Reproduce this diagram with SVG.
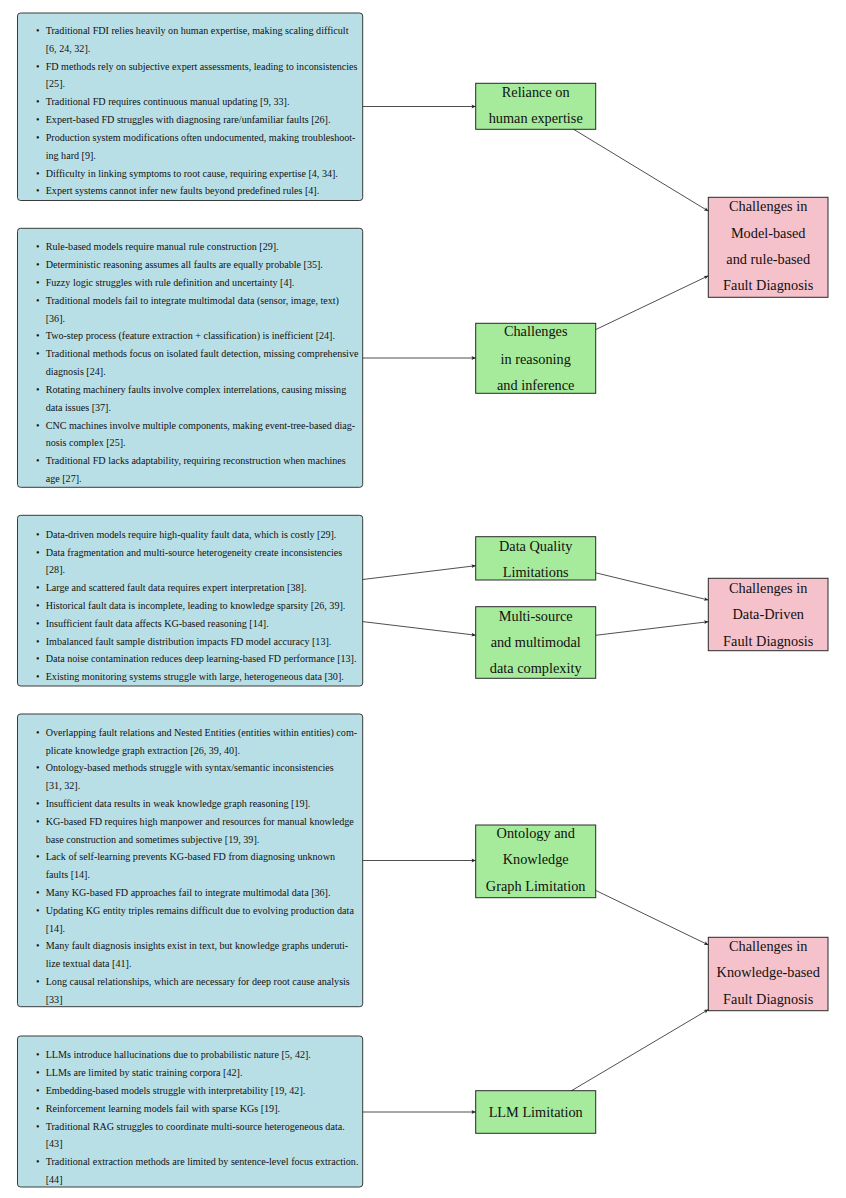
<svg xmlns="http://www.w3.org/2000/svg" width="846" height="1198" viewBox="0 0 846 1198">
<style>
.lb{fill:#b9dfe6;stroke:#3a3a3a;stroke-width:1}
.gn{fill:#a6eb9b;stroke:#2a2a2a;stroke-width:1}
.pk{fill:#f5c2cb;stroke:#2a2a2a;stroke-width:1}
.t{font-family:"Liberation Serif","Times New Roman",serif;font-size:10.1px;fill:#111}
.b{font-family:"Liberation Serif","Times New Roman",serif;font-size:10.1px;fill:#111;text-anchor:middle}
.n{font-family:"Liberation Serif","Times New Roman",serif;font-size:14.3px;fill:#111;text-anchor:middle}
.c{stroke:#222;stroke-width:0.8;fill:none;marker-end:url(#ah)}
</style>
<defs>
<marker id="ah" markerUnits="userSpaceOnUse" markerWidth="8" markerHeight="8" refX="0" refY="0" viewBox="-5 -4 6 8" orient="auto" overflow="visible">
<path d="M0,0 L-4.2,-1.9 L-3.2,0 L-4.2,1.9 Z" fill="#222"/>
</marker>
</defs>
<rect width="846" height="1198" fill="#fff"/>

<g id="box1">
<rect class="lb" x="17.5" y="13" width="345.2" height="187.5" rx="3"/>
<text class="b" x="37.7" y="33.8">•</text><text class="t" x="45.7" y="33.8">Traditional FDI relies heavily on human expertise, making scaling difficult</text>
<text class="t" x="45.7" y="51.65">[6, 24, 32].</text>
<text class="b" x="37.7" y="69.5">•</text><text class="t" x="45.7" y="69.5">FD methods rely on subjective expert assessments, leading to inconsistencies</text>
<text class="t" x="45.7" y="87.35">[25].</text>
<text class="b" x="37.7" y="105.2">•</text><text class="t" x="45.7" y="105.2">Traditional FD requires continuous manual updating [9, 33].</text>
<text class="b" x="37.7" y="123.05">•</text><text class="t" x="45.7" y="123.05">Expert-based FD struggles with diagnosing rare/unfamiliar faults [26].</text>
<text class="b" x="37.7" y="140.9">•</text><text class="t" x="45.7" y="140.9">Production system modifications often undocumented, making troubleshoot-</text>
<text class="t" x="45.7" y="158.75">ing hard [9].</text>
<text class="b" x="37.7" y="176.6">•</text><text class="t" x="45.7" y="176.6">Difficulty in linking symptoms to root cause, requiring expertise [4, 34].</text>
<text class="b" x="37.7" y="194.45">•</text><text class="t" x="45.7" y="194.45">Expert systems cannot infer new faults beyond predefined rules [4].</text>
</g>

<g id="box2">
<rect class="lb" x="17.5" y="228.3" width="345.2" height="259" rx="3"/>
<text class="b" x="37.7" y="250.1">•</text><text class="t" x="45.7" y="250.1">Rule-based models require manual rule construction [29].</text>
<text class="b" x="37.7" y="267.95">•</text><text class="t" x="45.7" y="267.95">Deterministic reasoning assumes all faults are equally probable [35].</text>
<text class="b" x="37.7" y="285.8">•</text><text class="t" x="45.7" y="285.8">Fuzzy logic struggles with rule definition and uncertainty [4].</text>
<text class="b" x="37.7" y="303.65">•</text><text class="t" x="45.7" y="303.65">Traditional models fail to integrate multimodal data (sensor, image, text)</text>
<text class="t" x="45.7" y="321.5">[36].</text>
<text class="b" x="37.7" y="339.35">•</text><text class="t" x="45.7" y="339.35">Two-step process (feature extraction + classification) is inefficient [24].</text>
<text class="b" x="37.7" y="357.2">•</text><text class="t" x="45.7" y="357.2">Traditional methods focus on isolated fault detection, missing comprehensive</text>
<text class="t" x="45.7" y="375.05">diagnosis [24].</text>
<text class="b" x="37.7" y="392.9">•</text><text class="t" x="45.7" y="392.9">Rotating machinery faults involve complex interrelations, causing missing</text>
<text class="t" x="45.7" y="410.75">data issues [37].</text>
<text class="b" x="37.7" y="428.6">•</text><text class="t" x="45.7" y="428.6">CNC machines involve multiple components, making event-tree-based diag-</text>
<text class="t" x="45.7" y="446.45">nosis complex [25].</text>
<text class="b" x="37.7" y="464.3">•</text><text class="t" x="45.7" y="464.3">Traditional FD lacks adaptability, requiring reconstruction when machines</text>
<text class="t" x="45.7" y="482.15">age [27].</text>
</g>

<g id="box3">
<rect class="lb" x="17.5" y="515.3" width="345.2" height="170.7" rx="3"/>
<text class="b" x="37.7" y="537.7">•</text><text class="t" x="45.7" y="537.7">Data-driven models require high-quality fault data, which is costly [29].</text>
<text class="b" x="37.7" y="555.5">•</text><text class="t" x="45.7" y="555.5">Data fragmentation and multi-source heterogeneity create inconsistencies</text>
<text class="t" x="45.7" y="573.3">[28].</text>
<text class="b" x="37.7" y="591.1">•</text><text class="t" x="45.7" y="591.1">Large and scattered fault data requires expert interpretation [38].</text>
<text class="b" x="37.7" y="608.9">•</text><text class="t" x="45.7" y="608.9">Historical fault data is incomplete, leading to knowledge sparsity [26, 39].</text>
<text class="b" x="37.7" y="626.7">•</text><text class="t" x="45.7" y="626.7">Insufficient fault data affects KG-based reasoning [14].</text>
<text class="b" x="37.7" y="644.5">•</text><text class="t" x="45.7" y="644.5">Imbalanced fault sample distribution impacts FD model accuracy [13].</text>
<text class="b" x="37.7" y="662.3">•</text><text class="t" x="45.7" y="662.3">Data noise contamination reduces deep learning-based FD performance [13].</text>
<text class="b" x="37.7" y="680.1">•</text><text class="t" x="45.7" y="680.1">Existing monitoring systems struggle with large, heterogeneous data [30].</text>
</g>

<g id="box4">
<rect class="lb" x="17.5" y="714" width="345.2" height="292.7" rx="3"/>
<text class="b" x="37.7" y="735.7">•</text><text class="t" x="45.7" y="735.7">Overlapping fault relations and Nested Entities (entities within entities) com-</text>
<text class="t" x="45.7" y="753.5">plicate knowledge graph extraction [26, 39, 40].</text>
<text class="b" x="37.7" y="771.3">•</text><text class="t" x="45.7" y="771.3">Ontology-based methods struggle with syntax/semantic inconsistencies</text>
<text class="t" x="45.7" y="789.1">[31, 32].</text>
<text class="b" x="37.7" y="806.9">•</text><text class="t" x="45.7" y="806.9">Insufficient data results in weak knowledge graph reasoning [19].</text>
<text class="b" x="37.7" y="824.7">•</text><text class="t" x="45.7" y="824.7">KG-based FD requires high manpower and resources for manual knowledge</text>
<text class="t" x="45.7" y="842.5">base construction and sometimes subjective [19, 39].</text>
<text class="b" x="37.7" y="860.3">•</text><text class="t" x="45.7" y="860.3">Lack of self-learning prevents KG-based FD from diagnosing unknown</text>
<text class="t" x="45.7" y="878.1">faults [14].</text>
<text class="b" x="37.7" y="895.9">•</text><text class="t" x="45.7" y="895.9">Many KG-based FD approaches fail to integrate multimodal data [36].</text>
<text class="b" x="37.7" y="913.7">•</text><text class="t" x="45.7" y="913.7">Updating KG entity triples remains difficult due to evolving production data</text>
<text class="t" x="45.7" y="931.5">[14].</text>
<text class="b" x="37.7" y="949.3">•</text><text class="t" x="45.7" y="949.3">Many fault diagnosis insights exist in text, but knowledge graphs underuti-</text>
<text class="t" x="45.7" y="967.1">lize textual data [41].</text>
<text class="b" x="37.7" y="984.9">•</text><text class="t" x="45.7" y="984.9">Long causal relationships, which are necessary for deep root cause analysis</text>
<text class="t" x="45.7" y="1002.7">[33]</text>
</g>

<g id="box5">
<rect class="lb" x="17.5" y="1036" width="345.2" height="151" rx="3"/>
<text class="b" x="37.7" y="1058.3">•</text><text class="t" x="45.7" y="1058.3">LLMs introduce hallucinations due to probabilistic nature [5, 42].</text>
<text class="b" x="37.7" y="1076.1">•</text><text class="t" x="45.7" y="1076.1">LLMs are limited by static training corpora [42].</text>
<text class="b" x="37.7" y="1093.9">•</text><text class="t" x="45.7" y="1093.9">Embedding-based models struggle with interpretability [19, 42].</text>
<text class="b" x="37.7" y="1111.7">•</text><text class="t" x="45.7" y="1111.7">Reinforcement learning models fail with sparse KGs [19].</text>
<text class="b" x="37.7" y="1129.5">•</text><text class="t" x="45.7" y="1129.5">Traditional RAG struggles to coordinate multi-source heterogeneous data.</text>
<text class="t" x="45.7" y="1147.3">[43]</text>
<text class="b" x="37.7" y="1165.1">•</text><text class="t" x="45.7" y="1165.1">Traditional extraction methods are limited by sentence-level focus extraction.</text>
<text class="t" x="45.7" y="1182.9">[44]</text>
</g>

<g id="reliance">
<rect class="gn" x="475.7" y="83.3" width="120" height="46"/>
<text class="n" x="535.7" y="97">Reliance on</text>
<text class="n" x="535.7" y="123">human expertise</text>
</g>
<g id="reasoning">
<rect class="gn" x="475.7" y="323.3" width="120" height="70"/>
<text class="n" x="535.7" y="336.4">Challenges</text>
<text class="n" x="535.7" y="363.7">in reasoning</text>
<text class="n" x="535.7" y="390.4">and inference</text>
</g>
<g id="modelbased">
<rect class="pk" x="708.3" y="197.3" width="119.7" height="100"/>
<text class="n" x="768.2" y="211.4">Challenges in</text>
<text class="n" x="768.2" y="238">Model-based</text>
<text class="n" x="768.2" y="264">and rule-based</text>
<text class="n" x="768.2" y="290.4">Fault Diagnosis</text>
</g>
<g id="dataquality">
<rect class="gn" x="475.7" y="536.7" width="120" height="43.3"/>
<text class="n" x="535.7" y="551.4">Data Quality</text>
<text class="n" x="535.7" y="577.4">Limitations</text>
</g>
<g id="multisource">
<rect class="gn" x="475.7" y="606.7" width="120" height="71.6"/>
<text class="n" x="535.7" y="620.7">Multi-source</text>
<text class="n" x="535.7" y="647.4">and multimodal</text>
<text class="n" x="535.7" y="673">data complexity</text>
</g>
<g id="datadriven">
<rect class="pk" x="708.3" y="578.3" width="119.7" height="72.4"/>
<text class="n" x="768.2" y="593">Challenges in</text>
<text class="n" x="768.2" y="619">Data-Driven</text>
<text class="n" x="768.2" y="645.7">Fault Diagnosis</text>
</g>
<g id="ontology">
<rect class="gn" x="475.7" y="825" width="120" height="72.7"/>
<text class="n" x="535.7" y="838">Ontology and</text>
<text class="n" x="535.7" y="864">Knowledge</text>
<text class="n" x="535.7" y="890.7">Graph Limitation</text>
</g>
<g id="llm">
<rect class="gn" x="475.7" y="1090.7" width="120" height="42.6"/>
<text class="n" x="535.7" y="1117.4">LLM Limitation</text>
</g>
<g id="knowledgebased">
<rect class="pk" x="708.3" y="937.3" width="119.7" height="73.4"/>
<text class="n" x="768.2" y="951.4">Challenges in</text>
<text class="n" x="768.2" y="977.4">Knowledge-based</text>
<text class="n" x="768.2" y="1003.7">Fault Diagnosis</text>
</g>

<g id="connectors">
<line class="c" x1="362.7" y1="106.5" x2="475.7" y2="106.5"/>
<line class="c" x1="362.7" y1="358" x2="475.7" y2="358"/>
<line class="c" x1="362.7" y1="579.5" x2="475.7" y2="565.7"/>
<line class="c" x1="362.7" y1="621.6" x2="475.7" y2="635.2"/>
<line class="c" x1="362.7" y1="860.5" x2="475.7" y2="860.5"/>
<line class="c" x1="362.7" y1="1112" x2="475.7" y2="1112"/>
<line class="c" x1="573.6" y1="129.3" x2="708.3" y2="211.1"/>
<line class="c" x1="595.7" y1="329.6" x2="708.3" y2="275.8"/>
<line class="c" x1="595.7" y1="572.8" x2="708.3" y2="600"/>
<line class="c" x1="595.7" y1="635.3" x2="708.3" y2="621.7"/>
<line class="c" x1="595.7" y1="890.4" x2="708.3" y2="944.9"/>
<line class="c" x1="571.5" y1="1090.7" x2="708.3" y2="1009.6"/>
</g>
</svg>
